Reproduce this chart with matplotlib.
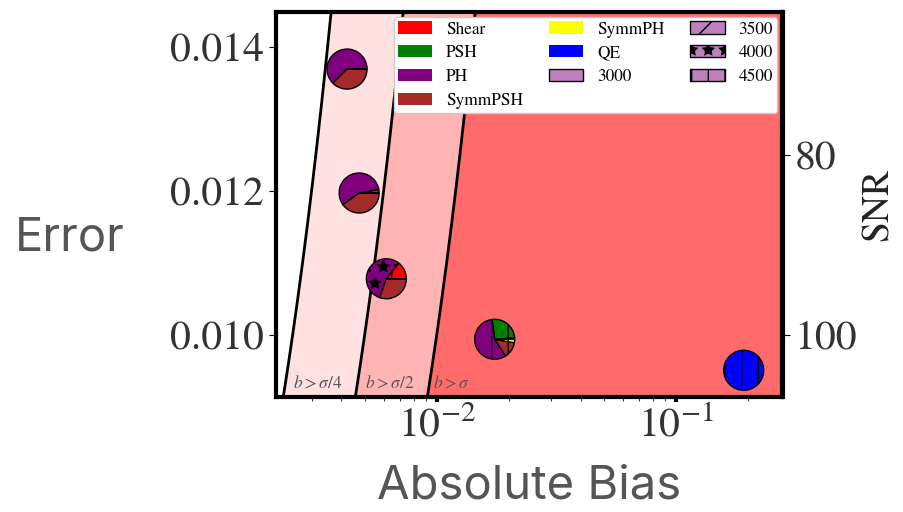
import numpy as np
import matplotlib.pyplot as plt
from matplotlib.patches import Wedge, Patch
from matplotlib.transforms import Affine2D, ScaledTranslation

plt.rcParams['font.family'] = ['STIXGeneral', 'DejaVu Serif']
plt.rcParams['mathtext.fontset'] = 'stix'

# methods and the colour of their wedge
methods = ['Shear', 'PSH', 'PH', 'SymmPSH', 'SymmPH', 'QE']
method_colors = ['red', 'green', 'purple', 'brown', 'yellow', 'blue']

# sample sizes and the hatch that marks them
sizes = ['3000', '3500', '4000', '4500']
size_hatches = ['', '/', '*', '|']

# one pie per configuration
bias = [0.00422, 0.00474, 0.00616, 0.01747, 0.1918]
error = [0.01369, 0.01197, 0.01078, 0.00994, 0.00951]
shares = [
    [0.0, 0.0, 0.625, 0.375, 0.0, 0.0],
    [0.03, 0.0, 0.57, 0.40, 0.0, 0.0],
    [0.145, 0.0, 0.55, 0.305, 0.0, 0.0],
    [0.012, 0.26, 0.57, 0.13, 0.028, 0.0],
    [0.0, 0.0, 0.0, 0.0, 0.0, 1.0],
]
# index into sizes for every wedge
wedge_size = [
    [0, 0, 0, 0, 0, 0],
    [0, 0, 0, 0, 0, 0],
    [3, 0, 2, 0, 0, 0],
    [3, 3, 3, 3, 3, 3],
    [3, 3, 3, 3, 3, 3],
]

# bias thresholds relative to sigma
band_fracs = [0.25, 0.5, 1.0]
band_labels = [r'$b>\sigma/4$', r'$b>\sigma/2$', r'$b>\sigma$']
band_colors = ['#ffe1e1', '#ffb4b4', '#ff6b6b']

xlim = (0.00212, 0.2786)
ylim = (0.009146, 0.014482)

fig = plt.figure(figsize=(9.04, 5.12), dpi=100)
ax = fig.add_axes([275.5 / 904, 1 - 396.5 / 512, 507 / 904, 384.5 / 512])
ax.set_xscale('log')

# shaded bands
ys = np.linspace(ylim[0], ylim[1], 200)
edges = [f * ys for f in band_fracs] + [np.full_like(ys, 10.0)]
for i, c in enumerate(band_colors):
    ax.fill_betweenx(ys, edges[i], edges[i + 1], color=c, lw=0, zorder=0)
for f in band_fracs:
    ax.plot(f * ys, ys, color='k', lw=2, zorder=1)

ty = 0.00933
for f, lab, k in zip(band_fracs, band_labels, [1.08, 1.08, 1.03]):
    ax.text(f * ty * k, ty, lab, fontsize=12.5, color='#555555', va='center', ha='left', zorder=2)


def draw_pie(x, y, fracs, hatch_idx, radius=0.2):
    trans = (Affine2D().scale(radius) + fig.dpi_scale_trans
             + ScaledTranslation(x, y, ax.transData))
    theta = 0.0
    for frac, color, h in zip(fracs, method_colors, hatch_idx):
        w = Wedge((0, 0), 1, theta, theta + 360 * frac, facecolor=color,
                  edgecolor='k', lw=1, hatch=size_hatches[h], transform=trans, zorder=5)
        ax.add_patch(w)
        theta += 360 * frac


for x, y, fr, hs in zip(bias, error, shares, wedge_size):
    draw_pie(x, y, fr, hs)

ax.set_xlim(*xlim)
ax.set_ylim(*ylim)
ax.set_yticks([0.010, 0.012, 0.014])

for s in ax.spines.values():
    s.set_linewidth(3)

ax.tick_params(axis='both', labelsize=30, labelcolor='#333333')
ax.tick_params(axis='x', which='major', width=3, length=3.5)
ax.tick_params(axis='x', which='minor', width=0.8, length=3, color='#444444')
ax.tick_params(axis='y', which='major', width=0.8, length=5)

sec = ax.secondary_yaxis('right', functions=(lambda e: 1 / e, lambda s: 1 / s))
sec.set_yticks([80, 100])
sec.tick_params(axis='y', which='major', labelsize=30, labelcolor='#333333', width=0.8, length=5)
sec.tick_params(axis='y', which='minor', length=0)
sec.spines['right'].set_linewidth(3)
sec.set_ylabel('SNR', fontsize=27, color='#222222', va='center')
sec.yaxis.set_label_coords(1.19, 0.5, transform=ax.transAxes)

ax.set_ylabel('Error', family='Inter', fontsize=34, color='#555555', rotation=0,
              va='center', ha='center')
ax.yaxis.set_label_coords(-0.405, 0.41)
ax.set_xlabel('Absolute Bias', family='Inter', fontsize=34, color='#555555', va='center')
ax.xaxis.set_label_coords(0.5, -0.233)

handles = [Patch(facecolor=c, label=m) for m, c in zip(methods, method_colors)]
handles += [Patch(facecolor='#bf80bf', edgecolor='k', hatch=h, label=s)
            for s, h in zip(sizes, size_hatches)]
leg = ax.legend(handles=handles, ncol=3, loc='upper right', fontsize=12.4,
                framealpha=1, borderpad=0.25, labelspacing=0.45, handlelength=2.0,
                handletextpad=0.8, columnspacing=1.5, borderaxespad=0.3)
leg.set_zorder(10)

fig.savefig('out.png', dpi=100)
